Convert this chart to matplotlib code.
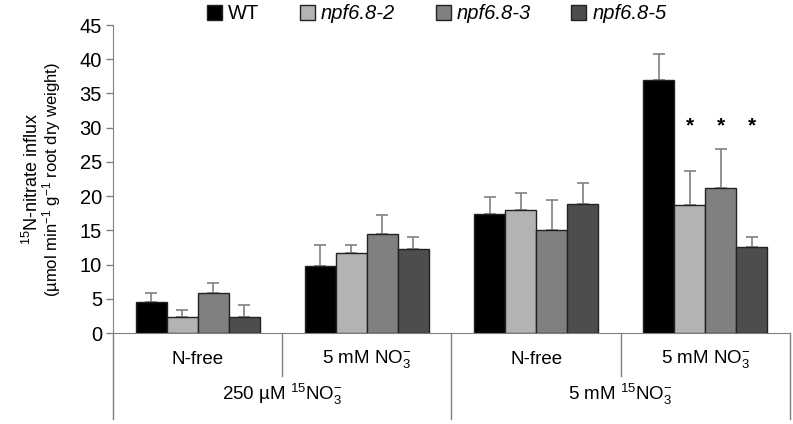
import numpy as np
import matplotlib.pyplot as plt
from matplotlib.lines import Line2D

plt.rcParams['font.family'] = ['Liberation Sans', 'DejaVu Sans']
plt.rcParams['mathtext.fontset'] = 'custom'
plt.rcParams['mathtext.rm'] = 'Liberation Sans'
plt.rcParams['mathtext.it'] = 'Liberation Sans:italic'

# datos
lineas = ["WT", "npf6.8-2", "npf6.8-3", "npf6.8-5"]
colores = ["#000000", "#b3b3b3", "#808080", "#4d4d4d"]
condiciones = ["N-free", "5 mM NO$_3^{-}$", "N-free", "5 mM NO$_3^{-}$"]
tratamientos = ["250 µM $^{15}$NO$_3^{-}$", "5 mM $^{15}$NO$_3^{-}$"]

wt = [4.5, 9.85, 17.4, 37.0]
npf2 = [2.4, 11.7, 17.9, 18.7]
npf3 = [5.9, 14.4, 15.1, 21.2]
npf5 = [2.4, 12.3, 18.9, 12.5]
wt_err = [1.4, 3.0, 2.5, 3.7]
npf2_err = [1.0, 1.2, 2.6, 4.9]
npf3_err = [1.35, 2.9, 4.3, 5.7]
npf5_err = [1.7, 1.7, 3.0, 1.5]
asteriscos = [(3, 1), (3, 2), (3, 3)]  # (grupo, linea)
y_asterisco = 30.2

valores = [wt, npf2, npf3, npf5]
errores = [wt_err, npf2_err, npf3_err, npf5_err]

fig = plt.figure(figsize=(7.93, 4.24), dpi=100)
ax = fig.add_axes([0.1425, 0.2146, 0.8537, 0.7264])

x = np.arange(len(condiciones)) + 0.5
ancho = 0.183
gris = "#808080"
for i, (v, e) in enumerate(zip(valores, errores)):
    pos = x + (i - 1.5) * ancho
    ax.bar(pos, v, ancho, color=colores[i], edgecolor="#222222", linewidth=1.0,
           label=lineas[i], zorder=3)
    ax.errorbar(pos, v, yerr=[np.zeros(len(e)), e], fmt="none", ecolor=gris,
                elinewidth=1.2, capsize=4, capthick=1.2, zorder=2)

for g, l in asteriscos:
    ax.text(x[g] + (l - 1.5) * ancho, y_asterisco, "*", ha="center", va="center",
            fontsize=15, fontweight="bold")

ax.set_xlim(0, 4)
ax.set_ylim(0, 45)
ax.set_yticks(np.arange(0, 46, 5))
ax.set_xticks([])
ax.tick_params(axis="y", direction="out", length=5, width=1, color=gris,
               labelsize=14.5, pad=3)
for s in ["top", "right"]:
    ax.spines[s].set_visible(False)
ax.spines["left"].set_color(gris)
ax.spines["bottom"].set_color(gris)
ax.spines["left"].set_bounds(0, 45)

# eje inferior con categorías
trans = ax.get_xaxis_transform()
for xd in [0, 2, 4]:
    ax.add_line(Line2D([xd, xd], [0, -0.28], transform=trans, color=gris, lw=1, clip_on=False))
for xd in [1, 3]:
    ax.add_line(Line2D([xd, xd], [0, -0.14], transform=trans, color=gris, lw=1, clip_on=False))

for xi, c in zip(x, condiciones):
    ax.text(xi, -0.085, c, transform=trans, ha="center", va="center", fontsize=13.5)
for xi, t in zip([1, 3], tratamientos):
    ax.text(xi, -0.2, t, transform=trans, ha="center", va="center", fontsize=13.5)

ax.text(-0.12, 0.5, "$^{15}$N-nitrate influx", transform=ax.transAxes, rotation=90,
        ha="center", va="center", fontsize=13)
ax.text(-0.091, 0.5, "(µmol min$^{-1}$ g$^{-1}$ root dry weight)", transform=ax.transAxes,
        rotation=90, ha="center", va="center", fontsize=12)

handles = [plt.Rectangle((0, 0), 1, 1, facecolor=c, edgecolor="#222222", lw=1) for c in colores]
leg = fig.legend(handles, lineas, loc="center", bbox_to_anchor=(0.551, 0.967), ncol=4,
                 frameon=False, fontsize=14.5, handlelength=0.75, handleheight=0.75,
                 handletextpad=0.3, columnspacing=2.0, borderaxespad=0)
for t in leg.get_texts()[1:]:
    t.set_fontstyle("italic")

fig.savefig("out.png", dpi=100)
